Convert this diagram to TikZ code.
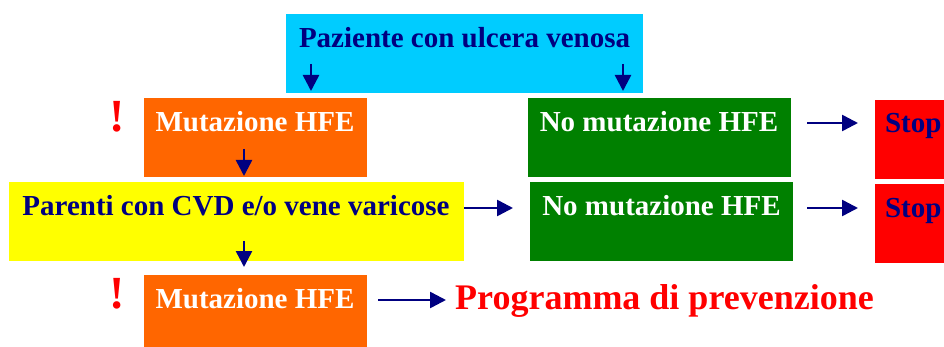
\documentclass[tikz,border=0pt]{standalone}
\usepackage{fontspec}
\setmainfont{Liberation Serif}
\usetikzlibrary{arrows.meta}
\definecolor{cy}{HTML}{00CCFF}
\definecolor{orng}{HTML}{FF6600}
\definecolor{grn}{HTML}{008000}
\definecolor{rd}{HTML}{FF0000}
\definecolor{yl}{HTML}{FFFF00}
\definecolor{nv}{HTML}{000080}
\begin{document}
\begin{tikzpicture}[x=1pt,y=-1pt,
  box/.style={inner sep=0pt, outer sep=0pt, minimum height=79pt},
  lbl/.style={anchor=base, inner sep=0pt, outer sep=0pt, font=\fontsize{29}{32}\selectfont\bfseries},
  arr/.style={draw=nv, line width=2.5pt, -{Triangle[length=16pt,width=16pt]}},
  excl/.style={anchor=base, inner sep=0pt, text=rd, font=\fontsize{46}{50}\selectfont\bfseries},
]
\useasboundingbox (0,0) rectangle (944,347);
% boxes
\node[box, fill=cy,   minimum width=357pt] (paz)   at (464.5,53.5) {};
\node[box, fill=orng, minimum width=223pt] (mut1)  at (255.5,137.5) {};
\node[box, fill=grn,  minimum width=263pt] (nom1)  at (659.5,137.5) {};
\node[box, fill=rd,   minimum width=69pt]  (stop1) at (909.5,139.5) {};
\node[box, fill=yl,   minimum width=455pt] (par)   at (236.5,221.5) {};
\node[box, fill=grn,  minimum width=263pt] (nom2)  at (661.5,221.5) {};
\node[box, fill=rd,   minimum width=69pt]  (stop2) at (909.5,223.5) {};
\node[box, fill=orng, minimum width=223pt] (mut2)  at (255.5,314.5) {};
% texts
\node[lbl, text=nv]    (tpaz)   at (464.5,48) {Paziente con ulcera venosa};
\node[lbl, text=white] (tmut1)  at (255,132) {Mutazione HFE};
\node[lbl, text=white] (tnom1)  at (659,132) {No mutazione HFE};
\node[lbl, text=nv, anchor=base west] (tstop1) at (885,133) {Stop};
\node[lbl, text=nv]    (tpar)   at (236,216) {Parenti con CVD e/o vene varicose};
\node[lbl, text=white] (tnom2)  at (661.5,216) {No mutazione HFE};
\node[lbl, text=nv, anchor=base west] (tstop2) at (885,218) {Stop};
\node[lbl, text=white] (tmut2)  at (255,308) {Mutazione HFE};
\node[anchor=base west, inner sep=0pt, text=rd, font=\fontsize{36}{40}\selectfont\bfseries] (prog) at (455,309) {Programma di prevenzione};
\node[excl] (ex1) at (117,132) {!};
\node[excl] (ex2) at (117,308) {!};
% arrow end points
\coordinate (a1s) at (311,64);  \coordinate (a1e) at (311,91);
\coordinate (a2s) at (623,64);  \coordinate (a2e) at (623,91);
\coordinate (a3s) at (244,149); \coordinate (a3e) at (244,176);
\coordinate (a4s) at (244,241); \coordinate (a4e) at (244,267);
\coordinate (a5s) at (807,123); \coordinate (a5e) at (858,123);
\coordinate (a6s) at (464,208); \coordinate (a6e) at (513,208);
\coordinate (a7s) at (807,208); \coordinate (a7e) at (858,208);
\coordinate (a8s) at (378,300); \coordinate (a8e) at (446,300);
\draw[arr] (a1s) -- (a1e);
\draw[arr] (a2s) -- (a2e);
\draw[arr] (a3s) -- (a3e);
\draw[arr] (a4s) -- (a4e);
\draw[arr] (a5s) -- (a5e);
\draw[arr] (a6s) -- (a6e);
\draw[arr] (a7s) -- (a7e);
\draw[arr] (a8s) -- (a8e);
\end{tikzpicture}
\end{document}
